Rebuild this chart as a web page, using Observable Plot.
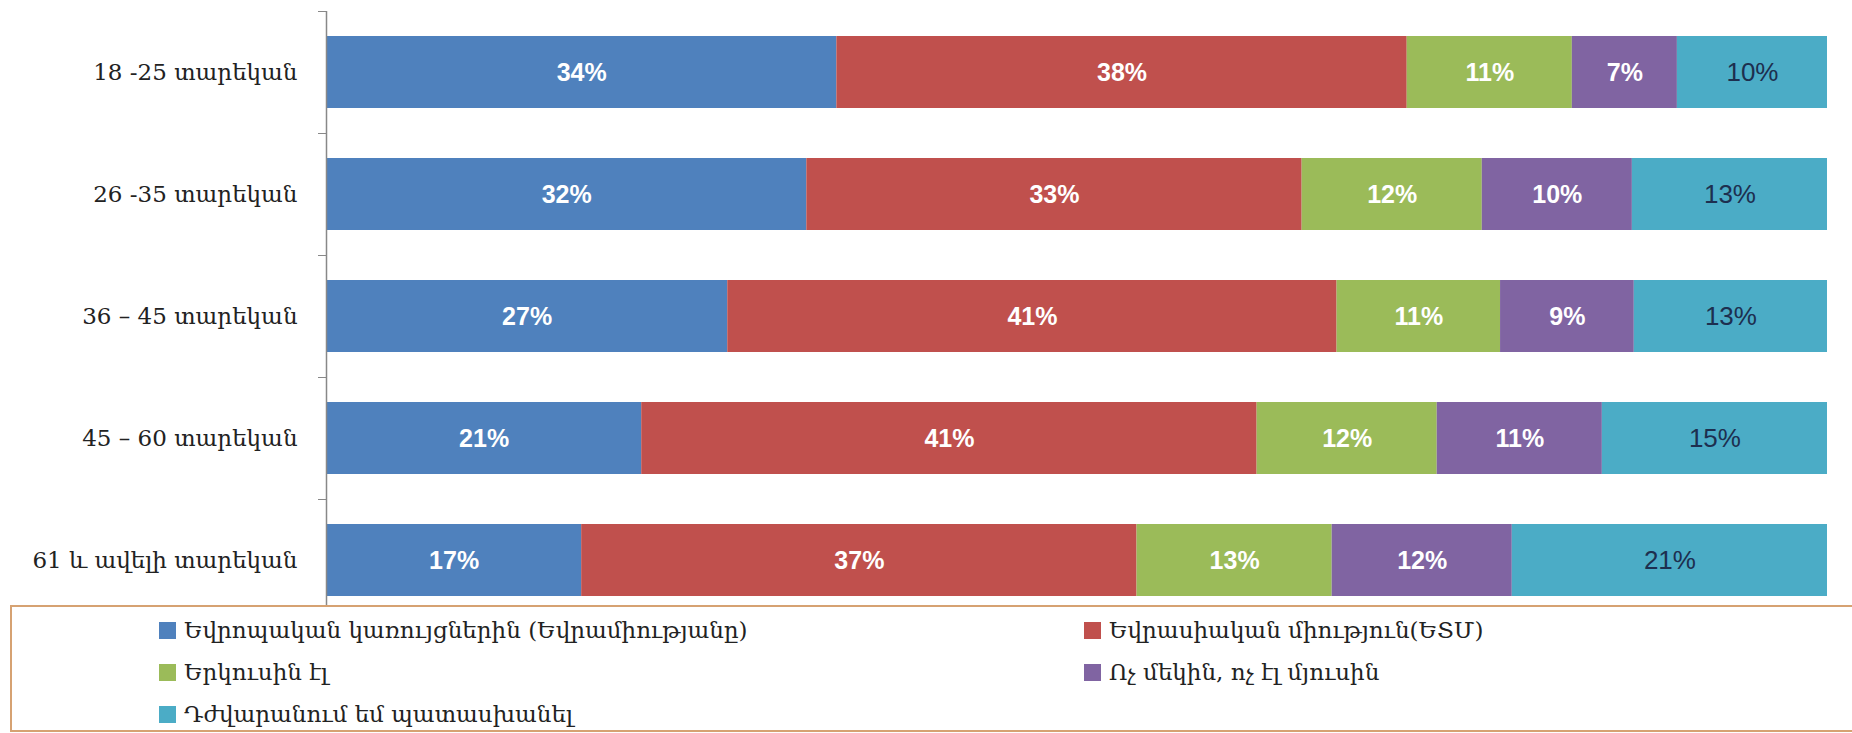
<!DOCTYPE html>
<html>
<head>
<meta charset="utf-8">
<script src="https://cdn.jsdelivr.net/npm/d3@7"></script>
<script src="https://cdn.jsdelivr.net/npm/@observablehq/plot@0.6"></script>
<style>
  html, body { margin: 0; padding: 0; background: #fff; }
  #chart { width: 1852px; }
  #legend {
    position: relative;
    margin-top: -16px;
    margin-left: 10px;
    width: 1860px;
    height: 127px;
    background: #fff;
    border: 2px solid #d6a272;
    border-right: none;
    display: grid;
    grid-template-columns: 925px 925px;
    grid-auto-rows: 42px;
    padding-top: 2px;
    padding-left: 147px;
    box-sizing: border-box;
    font-family: "DejaVu Serif", serif;
    font-size: 23px;
    color: #222;
  }
  .item { display: flex; align-items: center; white-space: nowrap; }
  .sw { width: 17px; height: 17px; margin-right: 8px; display: inline-block; }
</style>
</head>
<body>
<div id="chart"></div>
<div id="legend"></div>
<script>
const ages = ["18 -25 տարեկան", "26 -35 տարեկան", "36 – 45 տարեկան", "45 – 60 տարեկան", "61 և ավելի տարեկան"];
const categories = [
  "Եվրոպական կառույցներին (Եվրամիությանը)",
  "Եվրասիական միություն(ԵՏՄ)",
  "Երկուսին էլ",
  "Ոչ մեկին, ոչ էլ մյուսին",
  "Դժվարանում եմ պատասխանել"
];
const colors = ["#4f81bd", "#c0504d", "#9bbb59", "#8064a2", "#4bacc6"];
const europe  = [34, 32, 27, 21, 17];
const eaeu    = [38, 33, 41, 41, 37];
const both    = [11, 12, 11, 12, 13];
const neither = [7, 10, 9, 11, 12];
const hard    = [10, 13, 13, 15, 21];

const series = [europe, eaeu, both, neither, hard];
const data = [];
ages.forEach((age, i) => {
  categories.forEach((cat, j) => {
    data.push({age, cat, value: series[j][i]});
  });
});
const last = categories[categories.length - 1];

const stackOpts = (extra) => Plot.stackX({
  x: "value", y: "age", z: "cat", order: categories, offset: "normalize", ...extra
});

const chart = Plot.plot({
  width: 1852,
  height: 621,
  marginTop: 11,
  marginBottom: 0,
  marginLeft: 326,
  marginRight: 25,
  style: {fontFamily: "DejaVu Serif, serif", fontSize: "23px", color: "#222", background: "#fff"},
  x: {axis: null, domain: [0, 1]},
  y: {domain: ages, paddingInner: 0.41, paddingOuter: 0.205, label: null, axis: null},
  color: {domain: categories, range: colors},
  marks: [
    Plot.barX(data, stackOpts({fill: "cat"})),
    Plot.text(data, stackOpts({
      text: d => d.cat !== last ? d.value + "%" : "",
      fill: "white", fontWeight: "bold", fontSize: 25, fontFamily: "Liberation Sans, Arial, sans-serif"
    })),
    Plot.text(data, stackOpts({
      text: d => d.cat === last ? d.value + "%" : "",
      fill: "#1d2f4f", fontSize: 26, fontFamily: "Liberation Sans, Arial, sans-serif"
    })),
    Plot.axisY({tickSize: 0, tickPadding: 29, label: null, fontSize: 23}),
    Plot.axisY({tickSize: 8, tickFormat: () => "", dy: -61, stroke: "#888", label: null}),
    Plot.ruleX([0], {stroke: "#888", strokeWidth: 1.5})
  ]
});
document.getElementById("chart").appendChild(chart);

const legend = document.getElementById("legend");
categories.forEach((cat, j) => {
  const item = document.createElement("div");
  item.className = "item";
  const sw = document.createElement("span");
  sw.className = "sw";
  sw.style.background = colors[j];
  const t = document.createElement("span");
  t.textContent = cat;
  item.appendChild(sw);
  item.appendChild(t);
  legend.appendChild(item);
});
</script>
</body>
</html>
